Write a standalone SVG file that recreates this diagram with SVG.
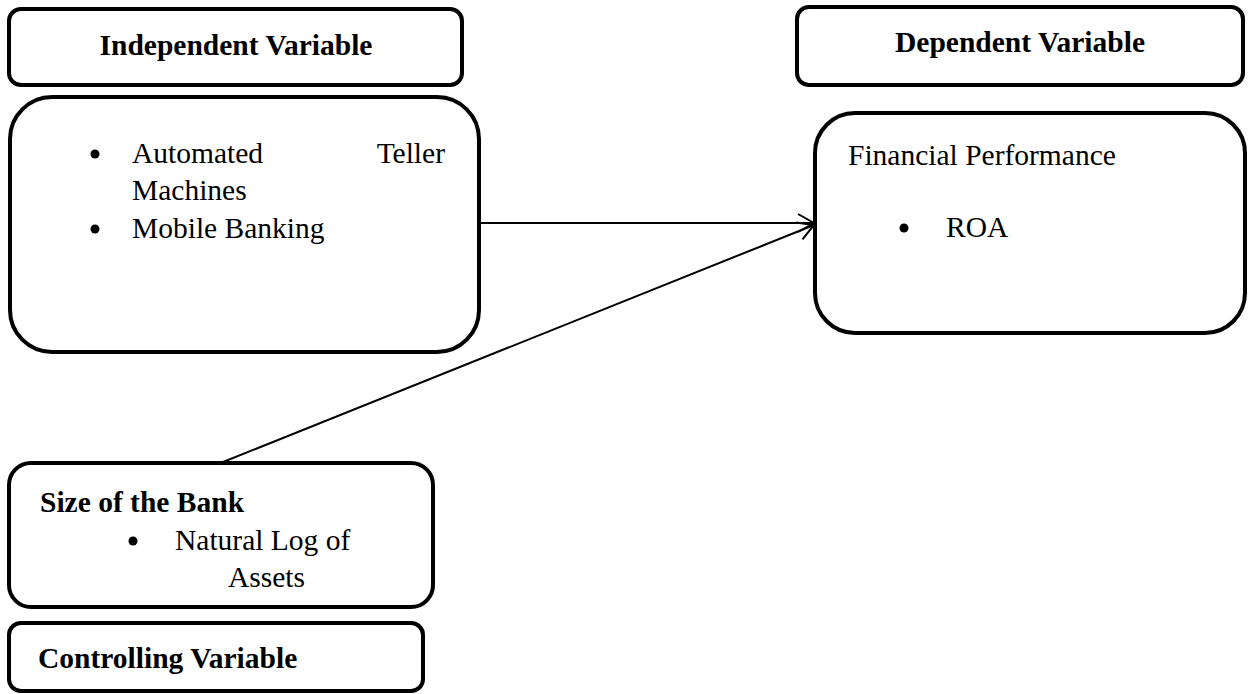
<svg xmlns="http://www.w3.org/2000/svg" width="1251" height="694" viewBox="0 0 1251 694">
<style>
.box{fill:#fff;stroke:#000;stroke-width:4}
.t{font-family:"Liberation Serif","Times New Roman",serif;font-size:29.5px;fill:#000}
.b{font-weight:bold}
.conn{stroke:#000;stroke-width:2;fill:none}
</style>
<defs>
<marker id="arr" markerWidth="20" markerHeight="20" refX="18" refY="10" orient="auto" markerUnits="userSpaceOnUse">
<path d="M2,1 L18,10 L2,19" fill="none" stroke="#000" stroke-width="2"/>
</marker>
</defs>
<rect width="1251" height="694" fill="#fff"/>
<g id="iv-header">
<rect class="box" x="9" y="9" width="453" height="76" rx="12"/>
<text class="t b" x="236" y="55" text-anchor="middle">Independent Variable</text>
</g>
<g id="iv-content">
<rect class="box" x="10" y="97" width="469" height="255" rx="42"/>
<circle cx="95" cy="154" r="4.5"/>
<text class="t" x="132" y="163">Automated</text>
<text class="t" x="445" y="163" text-anchor="end">Teller</text>
<text class="t" x="132" y="200">Machines</text>
<circle cx="95" cy="229" r="4.5"/>
<text class="t" x="132" y="238">Mobile Banking</text>
</g>
<g id="dv-header">
<rect class="box" x="797" y="7" width="446" height="78" rx="12"/>
<text class="t b" x="1020" y="52" text-anchor="middle">Dependent Variable</text>
</g>
<g id="dv-content">
<rect class="box" x="815" y="113" width="430" height="220" rx="40"/>
<text class="t" x="848" y="165">Financial Performance</text>
<circle cx="904" cy="228" r="4.5"/>
<text class="t" x="946" y="237">ROA</text>
</g>
<g id="cv-content">
<rect class="box" x="9" y="463" width="424" height="144" rx="22"/>
<text class="t b" x="40" y="512">Size of the Bank</text>
<circle cx="133" cy="541" r="4.5"/>
<text class="t" x="175" y="550">Natural Log of</text>
<text class="t" x="228" y="587">Assets</text>
</g>
<g id="cv-header">
<rect class="box" x="9" y="623" width="414" height="68" rx="12"/>
<text class="t b" x="38" y="668">Controlling Variable</text>
</g>
<g id="connectors">
<line class="conn" x1="481" y1="223" x2="814" y2="223" marker-end="url(#arr)"/>
<line class="conn" x1="223" y1="462" x2="814" y2="225" marker-end="url(#arr)"/>
</g>
</svg>
